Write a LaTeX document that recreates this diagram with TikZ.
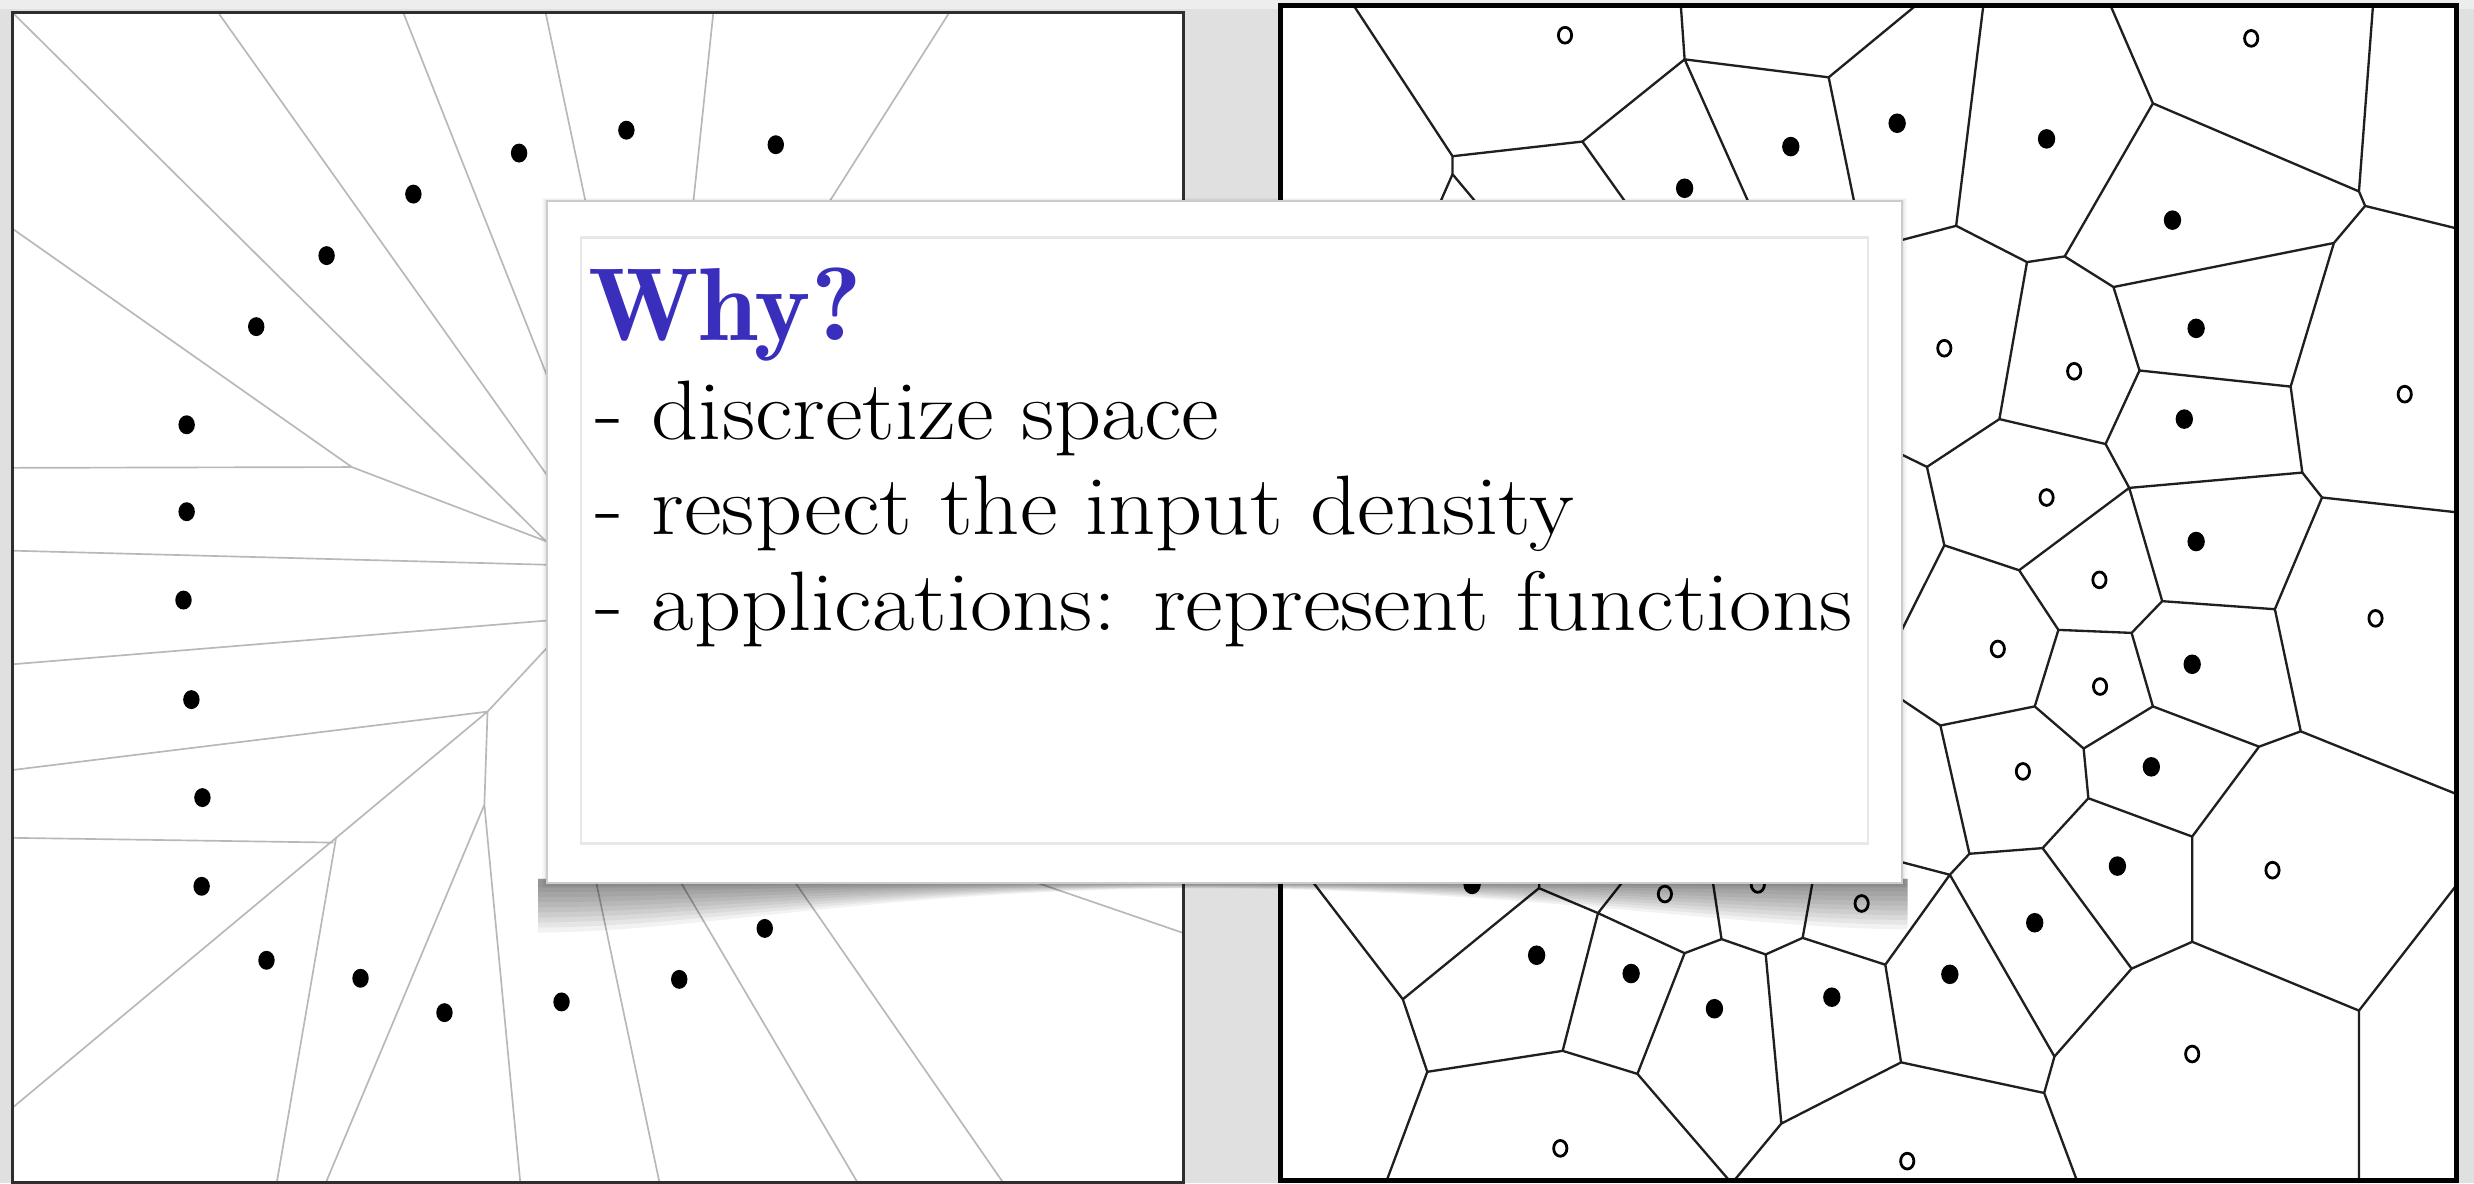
\documentclass[tikz,border=0pt]{standalone}
\definecolor{whyblue}{RGB}{58,46,188}
\tikzset{
  paneledge/.style={draw=black!82, line width=0.55pt},
  rightframe/.style={draw=black, line width=0.85pt},
  grayedge/.style={draw=black!28, line width=0.3pt, line cap=round},
  celledge/.style={draw=black!88, line width=0.42pt, line cap=round, line join=round},
  bodytext/.style={anchor=base west, inner sep=0pt, font=\fontsize{15.2}{18}\selectfont},
}
\newcommand{\widetext}[1]{\scalebox{1.095}[1]{#1}}
\begin{document}
\begin{tikzpicture}[x=0.01cm, y=-0.01cm]
\useasboundingbox (0,0) rectangle (1568,750);

% backdrop
\fill[black!12] (0,0) rectangle (1568,750);
\fill[black!7] (0,0) rectangle (1568,6);

% ---------- left panel: sparse sample, gray cells ----------
\fill[white] (8,8) rectangle (750,752);
\begin{scope}
  \clip (8,8) rectangle (750,752);
  \draw[grayedge]
    (9,9) -- (350,347)
    (139,9) -- (348,303)
    (256,9) -- (349,244)
    (346,9) -- (372,132)
    (452,9) -- (439,132)
    (601,9) -- (523,132)
    (8,145) -- (223,296)
    (8,296.5) -- (223,296)
    (223,296) -- (350,344.5)
    (8,349) -- (350,358)
    (8,421) -- (350,393)
    (8,488) -- (309,451)
    (309,451) -- (350,407)
    (8,702) -- (213,531) -- (309,451)
    (8,531) -- (211,534)
    (213,531) -- (175,752)
    (309,451) -- (307,510)
    (307,510) -- (205.5,752)
    (307,510) -- (330,752)
    (377,555) -- (418.5,752)
    (429,555) -- (545,752)
    (501,555) -- (637.5,752)
    (650,557) -- (752,592);
\end{scope}
\foreach \p in {(491.7,91.7),(397,82.5),(329,97),(262,123),(207,162),(162.4,207),
  (118.3,269.2),(118.3,324.3),(116.3,380.3),(121.3,443.4),(128.3,505.5),(127.8,561.7),
  (168.9,608.6),(228.5,620),(281.7,641.8),(355.9,635),(430.5,620.7),(484.7,588.4)}
  \fill[black] \p ellipse [x radius=0.52mm, y radius=0.6mm];
\draw[paneledge] (8,8) rectangle (750,749.5);

% ---------- right panel: dense sample, black cells ----------
\fill[white] (811.5,3.5) rectangle (1557,748);
\begin{scope}
  \clip (811.5,3.5) rectangle (1557,748);
  \draw[celledge]
    (857,2) -- (920.6,99)
    (920.6,99) -- (1002.9,89.7)
    (920.6,99) -- (920.6,110.4) -- (937,130)
    (920.6,110.4) -- (912,130)
    (1002.9,89.7) -- (1067.7,37.6)
    (1002.9,89.7) -- (1031.6,130)
    (1065.2,2) -- (1067.7,37.6)
    (1067.7,37.6) -- (1159,49)
    (1159,49) -- (1216,2)
    (1159,49) -- (1176,132)
    (1067.7,37.6) -- (1109,130)
    (1257.2,2) -- (1239.8,143.1)
    (1239.8,143.1) -- (1200,153.5)
    (1239.8,143.1) -- (1284.7,166.1)
    (1284.7,166.1) -- (1308.6,162.5)
    (1308.6,162.5) -- (1364.5,65.5)
    (1364.5,65.5) -- (1337,2)
    (1364.5,65.5) -- (1495.1,121.3)
    (1495.1,121.3) -- (1504.1,2)
    (1495.1,121.3) -- (1499,130.5)
    (1499,130.5) -- (1560,145.5)
    (1499,130.5) -- (1479.2,154)
    (1479.2,154) -- (1339.5,181.9)
    (1339.5,181.9) -- (1308.6,162.5)
    (1284.7,166.1) -- (1267.2,265.6)
    (1339.5,181.9) -- (1356,234.8)
    (1356,234.8) -- (1451.8,245)
    (1479.2,154) -- (1451.8,245)
    (1451.8,245) -- (1459.2,299.5)
    (1356,234.8) -- (1334.5,281.4)
    (1267.2,265.6) -- (1334.5,281.4)
    (1267.2,265.6) -- (1221.3,295.9)
    (1221.3,295.9) -- (1200,285.5)
    (1221.3,295.9) -- (1232.3,345.6)
    (1334.5,281.4) -- (1349.5,309.2)
    (1349.5,309.2) -- (1459.2,299.5)
    (1459.2,299.5) -- (1471.7,315.3)
    (1471.7,315.3) -- (1560,325)
    (1471.7,315.3) -- (1441.8,386.1)
    (1349.5,309.2) -- (1279.7,361.4)
    (1232.3,345.6) -- (1279.7,361.4)
    (1349.5,309.2) -- (1370.4,381)
    (1232.3,345.6) -- (1203,404)
    (1279.7,361.4) -- (1304.6,399.2)
    (1304.6,399.2) -- (1351,401.1)
    (1370.4,381) -- (1351,401.1)
    (1370.4,381) -- (1441.8,386.1)
    (1441.8,386.1) -- (1458.2,463.5)
    (1458.2,463.5) -- (1560,504.5)
    (1458.2,463.5) -- (1431.8,473.2)
    (1431.8,473.2) -- (1364.5,447.7)
    (1364.5,447.7) -- (1351,401.1)
    (1364.5,447.7) -- (1320.6,474.4)
    (1320.6,474.4) -- (1289.6,447.7)
    (1289.6,447.7) -- (1304.6,399.2)
    (1289.6,447.7) -- (1229.8,459.8)
    (1229.8,459.8) -- (1200,439.8)
    (1229.8,459.8) -- (1248.2,541.1)
    (1320.6,474.4) -- (1323.6,505.9)
    (1323.6,505.9) -- (1389.4,530.2)
    (1389.4,530.2) -- (1431.8,473.2)
    (1323.6,505.9) -- (1294.6,537.5)
    (1294.6,537.5) -- (1248.2,541.1)
    (1248.2,541.1) -- (1235.8,554.4)
    (1235.8,554.4) -- (1200,545)
    (1294.6,537.5) -- (1351,613.9)
    (1389.4,530.2) -- (1389.4,596.9)
    (1389.4,596.9) -- (1351,613.9)
    (1389.4,596.9) -- (1495.1,640.5)
    (1495.1,640.5) -- (1560,557)
    (1495.1,640.5) -- (1495.1,750)
    (1351,613.9) -- (1302.1,669.6)
    (1235.8,554.4) -- (1302.1,669.6)
    (1302.1,669.6) -- (1295.6,692.7)
    (1295.6,692.7) -- (1317,750)
    (1295.6,692.7) -- (1204.9,673.3)
    (1204.9,673.3) -- (1194.9,611.4)
    (1235.8,554.4) -- (1194.9,611.4)
    (1194.9,611.4) -- (1142.5,594.4)
    (1142.5,594.4) -- (1149.5,555)
    (1142.5,594.4) -- (1119.1,604.9)
    (1119.1,604.9) -- (1091.1,595.2)
    (1091.1,595.2) -- (1085,555)
    (1091.1,595.2) -- (1067.7,604.1)
    (1067.7,604.1) -- (1012.8,578.7)
    (1012.8,578.7) -- (1031.5,555)
    (1012.8,578.7) -- (975.4,562.9)
    (975.4,562.9) -- (976,555)
    (975.4,562.9) -- (889.1,633.3)
    (829,555) -- (889.1,633.3)
    (889.1,633.3) -- (904.6,679.3)
    (904.6,679.3) -- (990.4,666)
    (990.4,666) -- (1012.8,578.7)
    (990.4,666) -- (1037.8,680.6)
    (1037.8,680.6) -- (1067.7,604.1)
    (1037.8,680.6) -- (1097.6,750)
    (904.6,679.3) -- (878.2,750)
    (1119.1,604.9) -- (1129,712.1)
    (1129,712.1) -- (1097.6,750)
    (1129,712.1) -- (1204.9,673.3);
\end{scope}
% filled sites
\foreach \p in {(1067.7,119.3),(1135,92.9),(1202.4,78.1),(1297.1,88),(1376.9,139.5),
  (1391.9,208.1),(1384.4,265.6),(1391.9,343.2),(1389.4,421),(1363.5,486),(1342,548.9),
  (1289.6,584.8),(1235.8,617.5),(1161,632),(1086.6,639.3),(1033.8,617),(973.9,605.4),
  (933,560.5)}
  \fill[black] \p ellipse [x radius=0.55mm, y radius=0.62mm];
% hollow sites
\foreach \p in {(991.9,22.3),(1426.8,24.3),(1232.3,220.7),(1314.6,235.3),(1524.1,249.8),
  (1297.1,315.3),(1330.6,367.5),(1331,435.1),(1266.2,411.3),(1282.1,488.9),(1505.6,391.9),
  (1440.3,551.5),(1389.4,668),(988.9,727.8),(1208.8,735.9),(1055.2,566.6),(1114.1,560.5),
  (1179.9,572.6)}
  \draw[black, line width=0.5pt] \p ellipse [x radius=0.42mm, y radius=0.5mm];
\draw[rightframe] (811.5,3.5) rectangle (1557,748);

% ---------- card with curled shadow ----------
\foreach \k in {1,...,10}
  \fill[black, opacity=0.05]
    (341,557) -- (341,559+3.2*\k)
    .. controls (440,559+3.2*\k) and (560,559+0.45*\k) .. (760,559+0.4*\k)
    .. controls (960,559+0.4*\k) and (1110,559+3*\k) .. (1209,559+3*\k)
    -- (1209,557) -- cycle;
\foreach \k in {1,2,3}
  \fill[black, opacity=0.03] (346.5-\k,127.2-0.5*\k) rectangle (1205.5+\k,559.5+\k);
\fill[white] (346.5,127.2) rectangle (1205.5,559.5);
\draw[black!20, line width=0.3pt] (346.5,127.2) rectangle (1205.5,559.5);
\draw[black!9, line width=0.4pt] (368,150.5) rectangle (1184,534.6);

\node[anchor=base west, inner sep=0pt, text=whyblue,
      font=\fontsize{18.7}{22}\fontseries{b}\selectfont] (why) at (372,216)
      {\scalebox{1.03}[1]{Why?}};
\node[bodytext] (item1) at (377,278.5) {\widetext{- discretize space}};
\node[bodytext] (item2) at (377,338.5) {\widetext{- respect the input density}};
\node[bodytext] (item3) at (377,399.5) {\widetext{- applications: represent functions}};
\end{tikzpicture}
\end{document}
